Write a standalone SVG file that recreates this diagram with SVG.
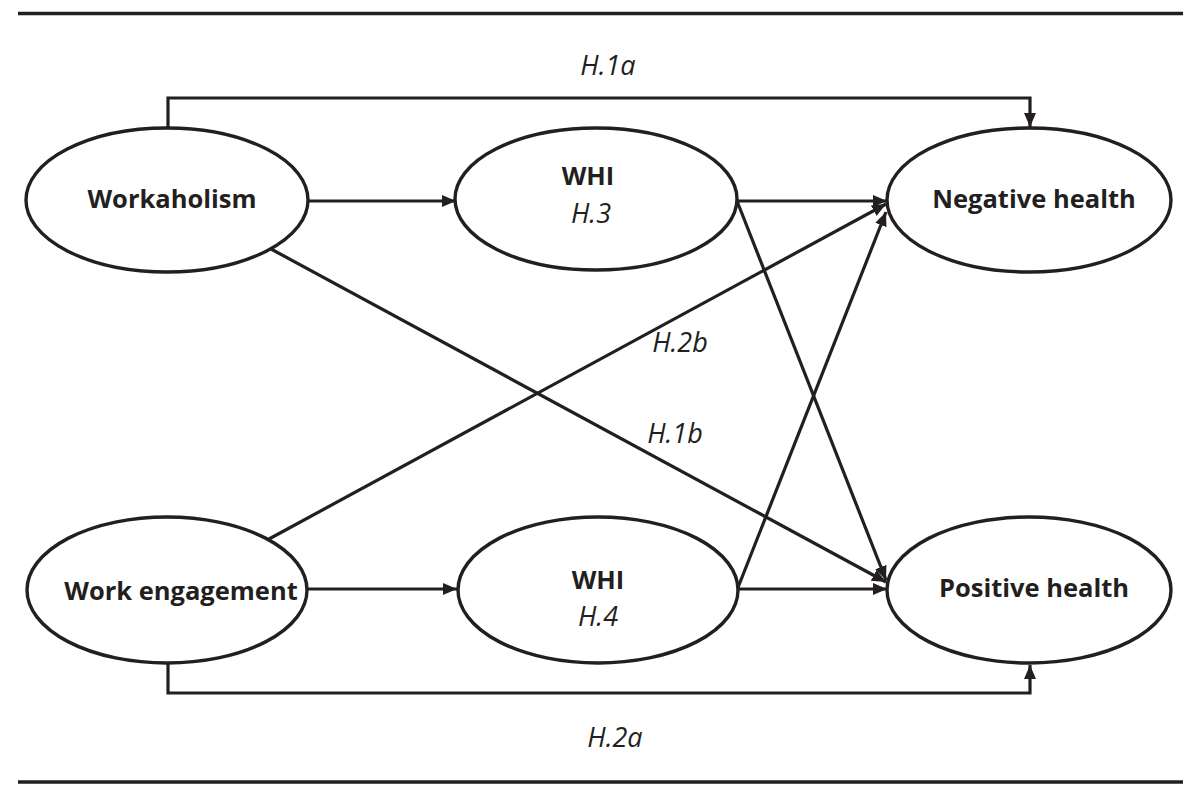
<svg xmlns="http://www.w3.org/2000/svg" width="1200" height="796" viewBox="0 0 1200 796">
<defs>
<style>
.node{fill:#fff;stroke:#231f20;stroke-width:3.4}
.lbl{font-family:"Open Sans","Liberation Sans",sans-serif;font-weight:bold;font-size:25.5px;fill:#231f20;text-anchor:middle}
.hyp{font-family:"Open Sans","Liberation Sans",sans-serif;font-style:italic;font-size:27px;fill:#231f20;text-anchor:middle}
.con{fill:none;stroke:#231f20;stroke-width:3.2}
.rule{stroke:#231f20;stroke-width:3.5}
</style>
<marker id="arr" markerUnits="userSpaceOnUse" markerWidth="15" markerHeight="13" refX="14" refY="6.5" orient="auto">
<path d="M0,0.5 L14,6.5 L0,12.5 z" fill="#231f20"/>
</marker>
</defs>
<rect width="1200" height="796" fill="#fff"/>
<line class="rule" x1="18" y1="13.5" x2="1183" y2="13.5"/>
<line class="rule" x1="18" y1="782" x2="1183" y2="782"/>
<g id="connectors">
<polyline class="con" points="168,128 168,98 1030,98 1030,127" marker-end="url(#arr)"/>
<polyline class="con" points="168,663 168,693 1030,693 1030,665" marker-end="url(#arr)"/>
<line class="con" x1="309" y1="201" x2="456" y2="201" marker-end="url(#arr)"/>
<line class="con" x1="308" y1="589" x2="457" y2="589" marker-end="url(#arr)"/>
<line class="con" x1="737" y1="201" x2="887" y2="201" marker-end="url(#arr)"/>
<line class="con" x1="738" y1="589" x2="887" y2="589" marker-end="url(#arr)"/>
<line class="con" x1="737" y1="201" x2="886" y2="580" marker-end="url(#arr)"/>
<line class="con" x1="737" y1="590" x2="886" y2="212" marker-end="url(#arr)"/>
<line class="con" x1="271" y1="249" x2="886" y2="582" marker-end="url(#arr)"/>
<line class="con" x1="269" y1="539" x2="886" y2="204" marker-end="url(#arr)"/>
<text class="hyp" x="608" y="75">H.1a</text>
<text class="hyp" x="615" y="747">H.2a</text>
<text class="hyp" x="680" y="352">H.2b</text>
<text class="hyp" x="675" y="443">H.1b</text>
</g>
<g id="workaholism">
<ellipse class="node" cx="167" cy="200" rx="141" ry="72"/>
<text class="lbl" x="172" y="208">Workaholism</text>
</g>
<g id="whi1">
<ellipse class="node" cx="596" cy="199" rx="141" ry="71"/>
<text class="lbl" x="588" y="185">WHI</text>
<text class="hyp" x="591" y="223">H.3</text>
</g>
<g id="negative-health">
<ellipse class="node" cx="1029" cy="200" rx="142" ry="72"/>
<text class="lbl" x="1034" y="208">Negative health</text>
</g>
<g id="work-engagement">
<ellipse class="node" cx="167" cy="590" rx="140" ry="73"/>
<text class="lbl" x="181" y="600">Work engagement</text>
</g>
<g id="whi2">
<ellipse class="node" cx="598" cy="590" rx="140" ry="73"/>
<text class="lbl" x="598" y="589">WHI</text>
<text class="hyp" x="598" y="626">H.4</text>
</g>
<g id="positive-health">
<ellipse class="node" cx="1029" cy="590" rx="142" ry="73"/>
<text class="lbl" x="1034" y="597">Positive health</text>
</g>
</svg>
